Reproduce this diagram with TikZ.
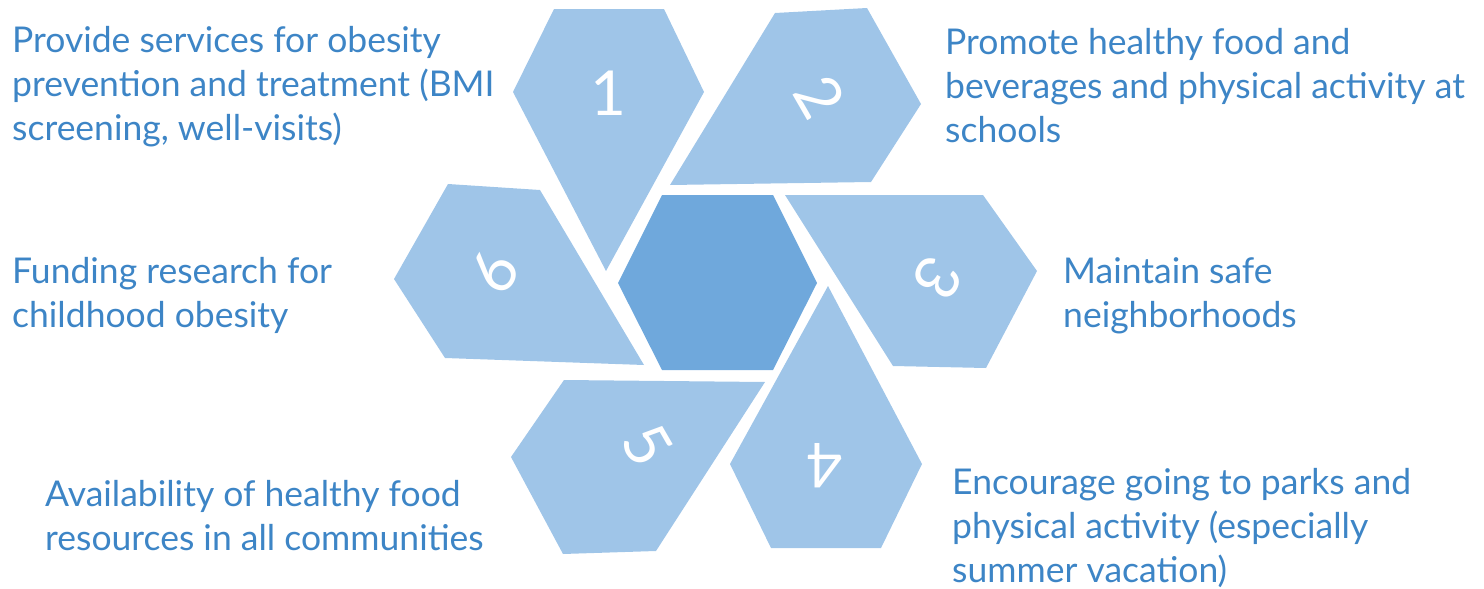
\documentclass[tikz,border=0pt]{standalone}
\usepackage{fontspec}
\setmainfont{Lato}
\definecolor{petal}{HTML}{9FC5E8}
\definecolor{hub}{HTML}{6FA8DC}
\definecolor{caption}{HTML}{3D85C6}
\begin{document}
\begin{tikzpicture}[x=1pt,y=-1pt,
  petal/.style={fill=petal},
  digit/.style={text=white,font=\fontsize{62}{62}\selectfont,inner sep=0pt},
  caption/.style={text=caption,font=\fontsize{35.5}{44}\selectfont,align=left,anchor=base west,inner sep=0pt}]
\useasboundingbox (0,0) rectangle (1484,589);
% centre hexagon
\fill[hub] (662,195) -- (773,195) -- (817,283) -- (773,370) -- (662,370) -- (618,283) -- cycle;
% the six petals, clockwise from the top
\fill[petal] (554,9) -- (664,9) -- (704,92) -- (606,271) -- (513,92) -- cycle;
\fill[petal] (775,13) -- (867,8) -- (921,104) -- (871,182) -- (670,185) -- cycle;
\fill[petal] (785,195) -- (983,195) -- (1037,271) -- (986,368) -- (893,366) -- cycle;
\fill[petal] (828,286) -- (922,464) -- (881,548) -- (771,548) -- (730,464) -- cycle;
\fill[petal] (564,380) -- (765,382) -- (656,551) -- (563,554) -- (511,457) -- cycle;
\fill[petal] (448,184) -- (540,190) -- (644,365) -- (445,358) -- (394,279) -- cycle;
% numbers, turned with their petal
\node[digit] (n1) at (608,93) {1};
\node[digit,rotate=-60] (n2) at (820,97) {2};
\node[digit,rotate=-120] (n3) at (938,278) {3};
\node[digit,rotate=180] (n4) at (825,466) {4};
\node[digit,rotate=-60] (n5) at (648,445) {5};
\node[digit,rotate=60] (n6) at (494,272) {6};
% captions (anchored on the baseline of their last line)
\node[caption] (c1) at (12,140) {Provide services for obesity\\prevention and treatment (BMI\\screening, well-visits)};
\node[caption] (c2) at (945,142) {Promote healthy food and\\beverages and physical activity at\\schools};
\node[caption] (c3) at (1063,327) {Maintain safe\\neighborhoods};
\node[caption] (c4) at (952,582) {Encourage going to parks and\\physical activity (especially\\summer vacation)};
\node[caption] (c5) at (45,550) {Availability of healthy food\\resources in all communities};
\node[caption] (c6) at (12,327) {Funding research for\\childhood obesity};
\end{tikzpicture}
\end{document}
